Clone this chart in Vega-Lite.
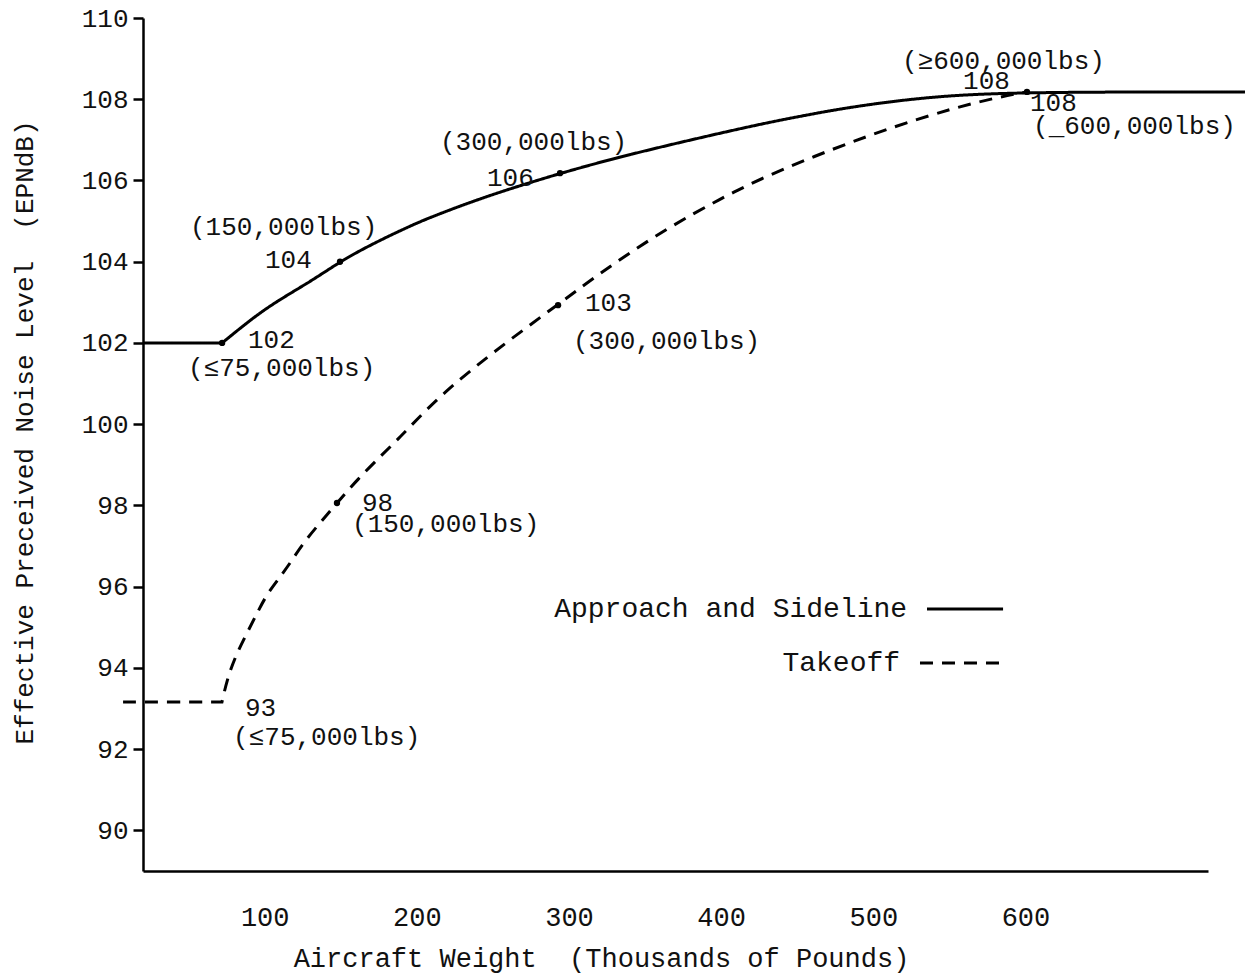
{
  "$schema": "https://vega.github.io/schema/vega-lite/v6.json",
  "width": 1065,
  "height": 853,
  "autosize": {"type": "none"},
  "padding": {"left": 143, "top": 18, "right": 41, "bottom": 105},
  "background": "white",
  "config": {
    "view": {"stroke": null},
    "font": "Liberation Mono",
    "axis": {
      "grid": false,
      "domainColor": "#000",
      "domainWidth": 2.5,
      "tickColor": "#000",
      "tickWidth": 2.5,
      "labelColor": "#111",
      "titleColor": "#111",
      "labelFont": "Liberation Mono",
      "titleFont": "Liberation Mono",
      "titleFontWeight": "normal"
    }
  },
  "datasets": {
    "curves": [
      {"series": "Approach and Sideline", "w": 20, "epndb": 102.0},
      {"series": "Approach and Sideline", "w": 72, "epndb": 102.0},
      {"series": "Approach and Sideline", "w": 72, "epndb": 102.0},
      {"series": "Approach and Sideline", "w": 72, "epndb": 102.0},
      {"series": "Approach and Sideline", "w": 92.3, "epndb": 102.62},
      {"series": "Approach and Sideline", "w": 108.1, "epndb": 103.03},
      {"series": "Approach and Sideline", "w": 131.7, "epndb": 103.55},
      {"series": "Approach and Sideline", "w": 149.5, "epndb": 104.0},
      {"series": "Approach and Sideline", "w": 169.2, "epndb": 104.41},
      {"series": "Approach and Sideline", "w": 195.5, "epndb": 104.88},
      {"series": "Approach and Sideline", "w": 210.6, "epndb": 105.12},
      {"series": "Approach and Sideline", "w": 246.1, "epndb": 105.62},
      {"series": "Approach and Sideline", "w": 294.1, "epndb": 106.18},
      {"series": "Approach and Sideline", "w": 338.1, "epndb": 106.63},
      {"series": "Approach and Sideline", "w": 397.3, "epndb": 107.15},
      {"series": "Approach and Sideline", "w": 430.1, "epndb": 107.42},
      {"series": "Approach and Sideline", "w": 451.8, "epndb": 107.58},
      {"series": "Approach and Sideline", "w": 484.7, "epndb": 107.81},
      {"series": "Approach and Sideline", "w": 539.3, "epndb": 108.08},
      {"series": "Approach and Sideline", "w": 601.0, "epndb": 108.18},
      {"series": "Approach and Sideline", "w": 744.3, "epndb": 108.18},
      {"series": "Approach and Sideline", "w": 744.3, "epndb": 108.18},
      {"series": "Approach and Sideline", "w": 744.3, "epndb": 108.18},
      {"series": "Takeoff", "w": 6.9, "epndb": 93.16},
      {"series": "Takeoff", "w": 6.9, "epndb": 93.16},
      {"series": "Takeoff", "w": 6.9, "epndb": 93.16},
      {"series": "Takeoff", "w": 71.9, "epndb": 93.16},
      {"series": "Takeoff", "w": 71.9, "epndb": 93.16},
      {"series": "Takeoff", "w": 71.9, "epndb": 93.16},
      {"series": "Takeoff", "w": 75.2, "epndb": 93.7},
      {"series": "Takeoff", "w": 80.5, "epndb": 94.27},
      {"series": "Takeoff", "w": 88.4, "epndb": 94.86},
      {"series": "Takeoff", "w": 95.0, "epndb": 95.35},
      {"series": "Takeoff", "w": 101.5, "epndb": 95.82},
      {"series": "Takeoff", "w": 110.1, "epndb": 96.24},
      {"series": "Takeoff", "w": 116.7, "epndb": 96.58},
      {"series": "Takeoff", "w": 125.2, "epndb": 97.07},
      {"series": "Takeoff", "w": 136.3, "epndb": 97.57},
      {"series": "Takeoff", "w": 147.5, "epndb": 98.06},
      {"series": "Takeoff", "w": 160.7, "epndb": 98.63},
      {"series": "Takeoff", "w": 177.7, "epndb": 99.27},
      {"series": "Takeoff", "w": 188.9, "epndb": 99.68},
      {"series": "Takeoff", "w": 200.1, "epndb": 100.12},
      {"series": "Takeoff", "w": 217.2, "epndb": 100.76},
      {"series": "Takeoff", "w": 248.1, "epndb": 101.72},
      {"series": "Takeoff", "w": 292.1, "epndb": 102.93},
      {"series": "Takeoff", "w": 328.9, "epndb": 103.95},
      {"series": "Takeoff", "w": 364.4, "epndb": 104.82},
      {"series": "Takeoff", "w": 399.3, "epndb": 105.55},
      {"series": "Takeoff", "w": 430.1, "epndb": 106.12},
      {"series": "Takeoff", "w": 473.5, "epndb": 106.78},
      {"series": "Takeoff", "w": 513.0, "epndb": 107.32},
      {"series": "Takeoff", "w": 552.4, "epndb": 107.78},
      {"series": "Takeoff", "w": 583.3, "epndb": 108.06},
      {"series": "Takeoff", "w": 601.0, "epndb": 108.18},
      {"series": "Takeoff", "w": 601.0, "epndb": 108.18},
      {"series": "Takeoff", "w": 601.0, "epndb": 108.18}
    ],
    "dots": [
      {"w": 72, "epndb": 102.0},
      {"w": 149.5, "epndb": 104.0},
      {"w": 294.1, "epndb": 106.18},
      {"w": 292.8, "epndb": 102.93},
      {"w": 147.5, "epndb": 98.06},
      {"w": 601.0, "epndb": 108.18}
    ],
    "notes": [
      {"label": "(150,000lbs)", "w": 50.9, "epndb": 104.85},
      {"label": "104", "w": 100.2, "epndb": 104.04},
      {"label": "102", "w": 89.0, "epndb": 102.07},
      {"label": "(≤75,000lbs)", "w": 49.6, "epndb": 101.38},
      {"label": "(300,000lbs)", "w": 215.2, "epndb": 106.95},
      {"label": "106", "w": 246.1, "epndb": 106.06},
      {"label": "103", "w": 310.5, "epndb": 102.98},
      {"label": "(300,000lbs)", "w": 302.6, "epndb": 102.05},
      {"label": "98", "w": 163.9, "epndb": 98.06},
      {"label": "(150,000lbs)", "w": 157.4, "epndb": 97.54},
      {"label": "93", "w": 87.0, "epndb": 93.01},
      {"label": "(≤75,000lbs)", "w": 79.2, "epndb": 92.3},
      {"label": "(≥600,000lbs)", "w": 518.9, "epndb": 108.94},
      {"label": "108", "w": 559.0, "epndb": 108.45},
      {"label": "108", "w": 603.0, "epndb": 107.91},
      {"label": "(_600,000lbs)", "w": 605.0, "epndb": 107.34}
    ],
    "legend": [
      {"series": "Approach and Sideline", "w": 522.2, "x1": 535.3, "x2": 585.3, "epndb": 95.45},
      {"series": "Takeoff", "w": 517.6, "x1": 530.7, "x2": 585.3, "epndb": 94.12}
    ]
  },
  "layer": [
    {
      "data": {"name": "curves"},
      "mark": {"type": "line", "interpolate": "basis", "strokeWidth": 3, "color": "#000", "clip": false},
      "encoding": {
        "x": {
          "field": "w", "type": "quantitative",
          "scale": {"domain": [20, 720], "nice": false, "zero": false},
          "axis": {
            "title": "Aircraft Weight\u00a0 (Thousands of Pounds)",
            "values": [100, 200, 300, 400, 500, 600],
            "ticks": false, "tickSize": 0,
            "labelFontSize": 27, "labelBaseline": "alphabetic", "labelPadding": 54,
            "titleFontSize": 27, "titleX": 458, "titleY": 95, "titleBaseline": "alphabetic"
          }
        },
        "y": {
          "field": "epndb", "type": "quantitative",
          "scale": {"domain": [89, 110], "nice": false, "zero": false},
          "axis": {
            "title": "Effective Preceived Noise Level\u00a0 (EPNdB)",
            "values": [90, 92, 94, 96, 98, 100, 102, 104, 106, 108, 110],
            "tickSize": 10, "labelPadding": 5, "labelFontSize": 26,
            "titleFontSize": 26, "titleX": -111, "titleY": 414, "titleBaseline": "alphabetic"
          }
        },
        "strokeDash": {
          "field": "series", "type": "nominal",
          "scale": {"domain": ["Approach and Sideline", "Takeoff"], "range": [[1, 0], [13, 9]]},
          "legend": null
        },
        "detail": {"field": "series"}
      }
    },
    {
      "data": {"name": "dots"},
      "mark": {"type": "point", "filled": true, "color": "#000", "size": 40, "opacity": 1},
      "encoding": {
        "x": {"field": "w", "type": "quantitative"},
        "y": {"field": "epndb", "type": "quantitative"}
      }
    },
    {
      "data": {"name": "notes"},
      "mark": {"type": "text", "align": "left", "baseline": "middle", "fontSize": 26, "font": "Liberation Mono", "color": "#111", "clip": false},
      "encoding": {
        "x": {"field": "w", "type": "quantitative"},
        "y": {"field": "epndb", "type": "quantitative"},
        "text": {"field": "label"}
      }
    },
    {
      "data": {"name": "legend"},
      "mark": {"type": "rule", "strokeWidth": 3, "color": "#000"},
      "encoding": {
        "x": {"field": "x1", "type": "quantitative"},
        "x2": {"field": "x2"},
        "y": {"field": "epndb", "type": "quantitative"},
        "strokeDash": {"field": "series", "type": "nominal", "legend": null}
      }
    },
    {
      "data": {"name": "legend"},
      "mark": {"type": "text", "align": "right", "baseline": "middle", "fontSize": 28, "font": "Liberation Mono", "color": "#111"},
      "encoding": {
        "x": {"field": "w", "type": "quantitative"},
        "y": {"field": "epndb", "type": "quantitative"},
        "text": {"field": "series"}
      }
    }
  ]
}
